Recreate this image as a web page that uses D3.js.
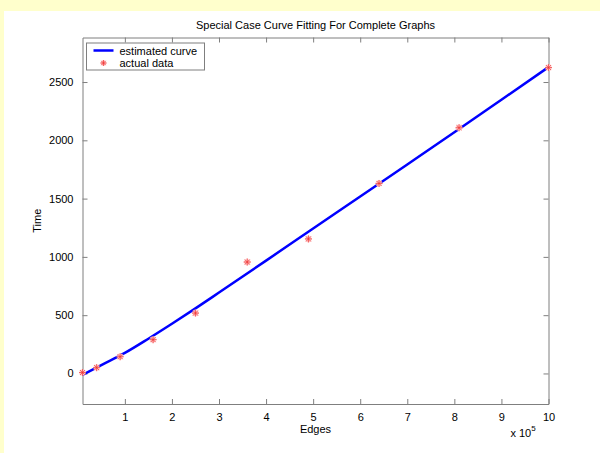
<!DOCTYPE html>
<html>
<head>
<meta charset="utf-8">
<script src="https://cdn.jsdelivr.net/npm/d3@7"></script>
<style>
  body { margin: 0; background: #ffffcc; }
  svg { display: block; }
  text { font-family: "Liberation Sans", Arial, sans-serif; font-size: 11px; fill: #000; }
</style>
</head>
<body>
<div id="chart"></div>
<script>
// edges in units of 10^5
const edgeValues = [0.1, 0.4, 0.9, 1.6, 2.5, 3.6, 4.9, 6.4, 8.1, 10];
const timeValues = [8, 50, 144, 290, 518, 956, 1154, 1630, 2108, 2624];

// estimated curve
const curveEdges = [0.1, 0.5, 1, 1.5, 2, 2.5, 3, 4, 5, 6, 7, 8, 9, 10];
const curveTimes = [-12, 72, 176, 298, 426, 558, 694, 968, 1244, 1518, 1793, 2069, 2348, 2628];

const xTicks = [1, 2, 3, 4, 5, 6, 7, 8, 9, 10];
const yTicks = [0, 500, 1000, 1500, 2000, 2500];

const W = 600, H = 453;
const margin = { top: 37.5, right: 51.5, bottom: 49, left: 82.5 };
const width = W - margin.left - margin.right,
    height = H - margin.top - margin.bottom;

const svg = d3.select("#chart").append("svg")
    .attr("width", W)
    .attr("height", H);

// white figure area
svg.append("rect")
    .attr("x", 4).attr("y", 11)
    .attr("width", W - 4).attr("height", H - 11)
    .attr("fill", "#fff");

const g = svg.append("g")
    .attr("transform", `translate(${margin.left}, ${margin.top})`);

const x = d3.scaleLinear().domain([0.1, 10]).range([0, width]);
const y = d3.scaleLinear().domain([-262, 2882]).range([height, 0]);

const axisColor = "#7f7f7f";

// axes with inward ticks on all four sides
const axBottom = g.append("g")
    .attr("transform", `translate(0, ${height})`)
    .call(d3.axisBottom(x).tickValues(xTicks).tickSizeInner(-5).tickSizeOuter(0).tickPadding(9));
const axTop = g.append("g")
    .call(d3.axisTop(x).tickValues(xTicks).tickSizeInner(-5).tickSizeOuter(0).tickFormat(""));
const axLeft = g.append("g")
    .call(d3.axisLeft(y).tickValues(yTicks).tickFormat(d3.format("d"))
        .tickSizeInner(-5).tickSizeOuter(0).tickPadding(9));
const axRight = g.append("g")
    .attr("transform", `translate(${width}, 0)`)
    .call(d3.axisRight(y).tickValues(yTicks).tickSizeInner(-5).tickSizeOuter(0).tickFormat(""));

[axBottom, axTop, axLeft, axRight].forEach(a => {
    a.selectAll("path, line").attr("stroke", axisColor);
    a.selectAll("text").attr("fill", "#000").style("font-size", "11px")
        .style("font-family", "'Liberation Sans', Arial, sans-serif");
});

// estimated curve
const line = d3.line()
    .x((d, i) => x(curveEdges[i]))
    .y(d => y(d))
    .curve(d3.curveMonotoneX);

g.append("path")
    .datum(curveTimes)
    .attr("d", line)
    .attr("fill", "none")
    .attr("stroke", "#0000ff")
    .attr("stroke-width", 2.5);

// star marker
function star(sel, r) {
    const p = [];
    for (let k = 0; k < 4; k++) {
        const a = k * Math.PI / 4;
        p.push(`M${-r * Math.cos(a)},${-r * Math.sin(a)}L${r * Math.cos(a)},${r * Math.sin(a)}`);
    }
    sel.append("path").attr("d", p.join("")).attr("stroke", "#ffc4c4").attr("stroke-width", 1.8);
    sel.append("path").attr("d", p.join("")).attr("stroke", "#ee3333").attr("stroke-width", 0.7);
}

g.append("g")
    .selectAll("g")
    .data(edgeValues)
    .join("g")
    .attr("transform", (d, i) => `translate(${x(d)}, ${y(timeValues[i])})`)
    .each(function () { star(d3.select(this), 3.5); });

// labels
svg.append("text")
    .attr("x", margin.left + width / 2).attr("y", 29)
    .attr("text-anchor", "middle")
    .text("Special Case Curve Fitting For Complete Graphs");

svg.append("text")
    .attr("x", margin.left + width / 2).attr("y", 433)
    .attr("text-anchor", "middle")
    .text("Edges");

svg.append("text")
    .attr("transform", `translate(41, ${margin.top + height / 2}) rotate(-90)`)
    .attr("text-anchor", "middle")
    .text("Time");

const mult = svg.append("text")
    .attr("x", 523).attr("y", 437)
    .attr("text-anchor", "middle");
mult.append("tspan").text("x 10");
mult.append("tspan").attr("dy", -6).style("font-size", "8px").text("5");

// legend
const lg = svg.append("g").attr("transform", "translate(86.5, 43)");
lg.append("rect")
    .attr("width", 118).attr("height", 27)
    .attr("fill", "#fff").attr("stroke", axisColor);
lg.append("line")
    .attr("x1", 7).attr("x2", 27).attr("y1", 7.5).attr("y2", 7.5)
    .attr("stroke", "#0000ff").attr("stroke-width", 2.5);
lg.append("text").attr("x", 33).attr("y", 11.5).text("estimated curve");
star(lg.append("g").attr("transform", "translate(17, 20)"), 3);
lg.append("text").attr("x", 33).attr("y", 24).text("actual data");
</script>
</body>
</html>
